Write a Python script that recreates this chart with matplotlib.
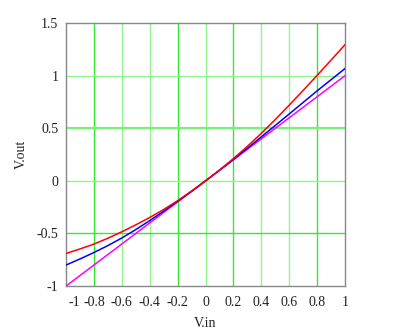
from matplotlib import pyplot as plt
from matplotlib import transforms

# values
v_in = [-1.0, -0.9, -0.8, -0.7, -0.6, -0.5, -0.4, -0.3, -0.2, -0.1, 0.0,
        0.1, 0.2, 0.3, 0.4, 0.5, 0.6, 0.7, 0.8, 0.9, 1.0]
v_red = [-0.690, -0.647, -0.601, -0.545, -0.484, -0.418, -0.348, -0.272, -0.188, -0.097, 0.0,
         0.103, 0.212, 0.328, 0.452, 0.583, 0.720, 0.860, 1.003, 1.148, 1.295]
v_blue = [-0.800, -0.742, -0.681, -0.615, -0.543, -0.463, -0.378, -0.288, -0.195, -0.099, 0.0,
          0.101, 0.204, 0.310, 0.418, 0.527, 0.636, 0.746, 0.856, 0.962, 1.068]
v_mag = [-1.0, -0.9, -0.8, -0.7, -0.6, -0.5, -0.4, -0.3, -0.2, -0.1, 0.0,
         0.1, 0.2, 0.3, 0.4, 0.5, 0.6, 0.7, 0.8, 0.9, 1.0]

x_ticks = [-1, -0.8, -0.6, -0.4, -0.2, 0, 0.2, 0.4, 0.6, 0.8, 1]
x_labels = ['-1', '-0.8', '-0.6', '-0.4', '-0.2', '0', '0.2', '0.4', '0.6', '0.8', '1']
y_ticks = [-1, -0.5, 0, 0.5, 1, 1.5]
y_labels = ['-1', '-0.5', '0', '0.5', '1', '1.5']

plt.rcParams['font.family'] = ['Liberation Serif', 'DejaVu Serif']
plt.rcParams['font.size'] = 10

fig = plt.figure(figsize=(4, 3.35), dpi=100)
ax = fig.add_axes([0.165, 0.146, 0.6975, 0.785])

# grid lines, two shades of green like the original
dark = '#33e833'
light = '#8ff58f'
for xv, c in zip([-0.8, -0.6, -0.4, -0.2, 0, 0.2, 0.4, 0.6, 0.8],
                 [dark, light, light, dark, light, dark, light, light, dark]):
    ax.axvline(xv, color=c, lw=1.0, zorder=1)
for yv, c in zip([-0.5, 0, 0.5, 1], [dark, light, '#77f077', light]):
    ax.axhline(yv, color=c, lw=1.0 if yv != 0.5 else 1.6, zorder=1)

ax.plot(v_in, v_mag, color='#ff00ff', lw=1.1, zorder=3)
ax.plot(v_in, v_blue, color='#0000ff', lw=1.1, zorder=3)
ax.plot(v_in, v_red, color='#ff0000', lw=1.1, zorder=3)

ax.set_xlim(-1, 1)
ax.set_ylim(-1, 1.5)
ax.set_xticks(x_ticks)
ax.set_xticklabels(x_labels)
ax.set_yticks(y_ticks)
ax.set_yticklabels(y_labels)
ax.tick_params(length=0, colors='#222222')
ax.tick_params(axis='x', pad=7)
ax.tick_params(axis='y', pad=5.5)

# first x label sits a bit to the right in the original
lab0 = ax.get_xticklabels()[0]
lab0.set_transform(lab0.get_transform() + transforms.ScaledTranslation(8/100, 0, fig.dpi_scale_trans))

for s in ax.spines.values():
    s.set_color('#888888')
    s.set_linewidth(1.0)

ax.set_xlabel('V.in', labelpad=6, color='#222222')
ax.set_ylabel('V.out', labelpad=6, color='#222222')

plt.savefig('out.png', dpi=100)
